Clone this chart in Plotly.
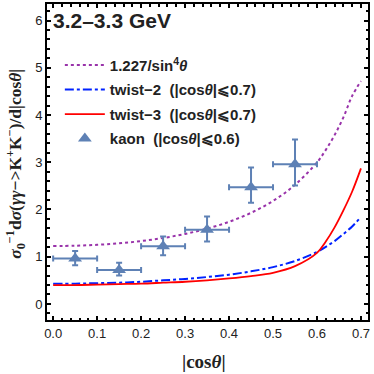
import plotly.graph_objects as go

# data
cos_grid = [0.0, 0.05, 0.1, 0.15, 0.2, 0.25, 0.3, 0.35, 0.4, 0.45, 0.5, 0.55, 0.6, 0.62, 0.64, 0.66, 0.68, 0.7]
sin4_curve = [1.227, 1.233, 1.252, 1.284, 1.331, 1.396, 1.482, 1.594, 1.739, 1.929, 2.181, 2.522, 2.996,
              3.261, 3.574, 3.950, 4.404, 4.717]
twist2 = [0.43, 0.43, 0.44, 0.45, 0.47, 0.50, 0.53, 0.57, 0.62, 0.69, 0.78, 0.91, 1.10, 1.21, 1.33, 1.48, 1.64, 1.84]
twist3 = [0.40, 0.40, 0.41, 0.42, 0.43, 0.45, 0.47, 0.50, 0.54, 0.59, 0.66, 0.80, 1.08, 1.32, 1.62, 1.98, 2.38, 2.87]

kaon_x = [0.05, 0.15, 0.25, 0.35, 0.45, 0.55]
kaon_y = [0.96, 0.72, 1.22, 1.57, 2.47, 2.96]
kaon_err_up = [0.16, 0.15, 0.21, 0.28, 0.42, 0.52]
kaon_err_down = [0.14, 0.12, 0.19, 0.25, 0.33, 0.45]
kaon_xerr = [0.05, 0.05, 0.05, 0.05, 0.05, 0.05]

x_ticks = [0.0, 0.1, 0.2, 0.3, 0.4, 0.5, 0.6, 0.7]
y_ticks = [0, 1, 2, 3, 4, 5, 6]

kaon_color = "#5E81B5"
legend_font = dict(family="Liberation Sans, Arial, sans-serif", size=15, color="#222")

fig = go.Figure()
fig.add_trace(go.Scatter(x=cos_grid, y=sin4_curve, mode="lines", line_shape="spline",
                         line=dict(color="#9933AA", width=2, dash="dot"),
                         name="<b>1.227/sin<sup>4</sup><i>θ</i></b>", legendgroup="a"))
fig.add_trace(go.Scatter(x=cos_grid, y=twist2, mode="lines", line_shape="spline",
                         line=dict(color="#0022FF", width=2, dash="dashdot"),
                         name="<b>twist−2  (|cos<i>θ</i>|⩽0.7)</b>", legendgroup="b"))
fig.add_trace(go.Scatter(x=cos_grid, y=twist3, mode="lines", line_shape="spline",
                         line=dict(color="#FF0000", width=1.8),
                         name="<b>twist−3  (|cos<i>θ</i>|⩽0.7)</b>", legendgroup="c"))
fig.add_trace(go.Scatter(x=kaon_x, y=kaon_y, mode="markers",
                         marker=dict(symbol="triangle-up", size=12, color=kaon_color),
                         error_y=dict(type="data", symmetric=False, array=kaon_err_up,
                                      arrayminus=kaon_err_down, color=kaon_color, thickness=2, width=3),
                         error_x=dict(type="data", array=kaon_xerr, color=kaon_color, thickness=2, width=3),
                         name="<b>kaon  (|cos<i>θ</i>|⩽0.6)</b>", legendgroup="d"))

axis_common = dict(showline=True, linecolor="black", linewidth=2, mirror="allticks",
                   ticks="inside", ticklen=4, tickwidth=1.5, tickcolor="black",
                   showgrid=False, zeroline=False,
                   tickfont=dict(family="Liberation Sans, Arial, sans-serif", size=13, color="#222"))

fig.update_xaxes(range=[-0.014, 0.716], tickvals=x_ticks, ticktext=[f"{v:.1f}" for v in x_ticks],
                 minor=dict(dtick=0.02, ticks="inside", ticklen=2.5, tickcolor="black", showgrid=False),
                 **axis_common)
fig.update_yaxes(range=[-0.34, 6.35], tickvals=y_ticks,
                 minor=dict(dtick=0.2, ticks="inside", ticklen=2.5, tickcolor="black", showgrid=False),
                 **axis_common)

fig.add_annotation(text="<b>3.2–3.3 GeV</b>", xref="paper", yref="paper", x=0.012, y=0.99,
                   xanchor="left", yanchor="top", showarrow=False,
                   font=dict(family="Liberation Sans, Arial, sans-serif", size=21, color="#222"))
fig.add_annotation(text="<b><i>σ</i><sub>0</sub><sup>−1</sup>d<i>σ</i>(<i>γγ</i>−>K<sup>+</sup>K<sup>−</sup>)/d|cos<i>θ</i>|</b>",
                   xref="paper", yref="paper", x=-0.097, y=0.494, textangle=-90,
                   xanchor="center", yanchor="middle", showarrow=False,
                   font=dict(family="Liberation Serif, Times New Roman, serif", size=17.5, color="#222"))
fig.add_annotation(text="<b>|cos<i>θ</i>|</b>", xref="paper", yref="paper", x=0.49, y=-0.13,
                   xanchor="center", yanchor="middle", showarrow=False,
                   font=dict(family="Liberation Serif, Times New Roman, serif", size=19, color="#222"))

fig.update_layout(width=374, height=374, margin=dict(l=47, r=6, t=2, b=54),
                  paper_bgcolor="white", plot_bgcolor="white",
                  showlegend=True,
                  legend=dict(x=0.04, y=0.858, xanchor="left", yanchor="top",
                              bgcolor="rgba(0,0,0,0)", font=legend_font, tracegroupgap=2,
                              itemwidth=40))

fig.write_html("out.html", config={"displayModeBar": False},
               post_script="document.body.style.margin='0';")
